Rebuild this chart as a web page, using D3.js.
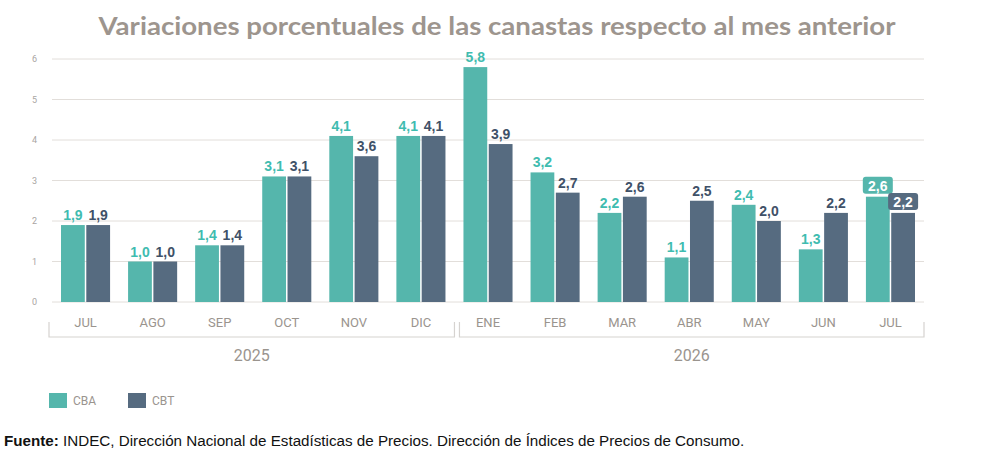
<!DOCTYPE html>
<html lang="es">
<head>
<meta charset="UTF-8">
<title>Variaciones porcentuales de las canastas</title>
<script src="https://d3js.org/d3.v7.min.js"></script>
<style>
    body { margin: 0; background: #fff; font-family: "Liberation Sans", Arial, sans-serif; }
    .tick text { font-family: "Liberation Sans Narrow", "Roboto", sans-serif; }
</style>
</head>
<body>
<div id="chart"></div>
<script>
// datos
const months = ["JUL", "AGO", "SEP", "OCT", "NOV", "DIC", "ENE", "FEB", "MAR", "ABR", "MAY", "JUN", "JUL"];
const years = [{ label: "2025", from: 0, to: 5 }, { label: "2026", from: 6, to: 12 }];
const cba = [1.9, 1.0, 1.4, 3.1, 4.1, 4.1, 5.8, 3.2, 2.2, 1.1, 2.4, 1.3, 2.6];
const cbt = [1.9, 1.0, 1.4, 3.1, 3.6, 4.1, 3.9, 2.7, 2.6, 2.5, 2.0, 2.2, 2.2];
const yTicks = [0, 1, 2, 3, 4, 5, 6];
const seriesNames = ["CBA", "CBT"];

const W = 995, H = 463;
const colors = { CBA: "#55b6ac", CBT: "#566b80" };
const labelColors = { CBA: "#3fbcb0", CBT: "#3f5168" };
const fmt = v => v.toFixed(1).replace(".", ",");

const svg = d3.select("#chart").append("svg")
    .attr("width", W).attr("height", H);

// título
svg.append("text")
    .attr("x", 497).attr("y", 35)
    .attr("text-anchor", "middle")
    .attr("font-family", "Lato, 'Noto Sans', sans-serif")
    .attr("font-weight", "bold")
    .attr("font-size", 25)
    .attr("fill", "#9d958e")
    .attr("textLength", 797)
    .attr("lengthAdjust", "spacingAndGlyphs")
    .text("Variaciones porcentuales de las canastas respecto al mes anterior");

// escalas
const x = d3.scaleBand().domain(d3.range(months.length)).range([52, 924]);
const xs = d3.scaleBand().domain(seriesNames).range([9, x.bandwidth() - 9]).paddingInner(0.06);
const y = d3.scaleLinear().domain([0, 6]).range([302, 59]);

// grilla
svg.append("g").selectAll("line").data(yTicks).join("line")
    .attr("x1", 52).attr("x2", 924)
    .attr("y1", d => y(d)).attr("y2", d => y(d))
    .attr("stroke", "#e2deda").attr("stroke-width", 1);

// eje y
const yAxis = svg.append("g")
    .attr("transform", "translate(40,0)")
    .call(d3.axisLeft(y).tickValues(yTicks).tickSize(0).tickFormat(d3.format("d")));
yAxis.select(".domain").remove();
yAxis.selectAll("text").attr("fill", "#a9a5a2").attr("font-size", 9);

// eje x
const xAxis = svg.append("g")
    .attr("transform", "translate(0,312)")
    .call(d3.axisBottom(x).tickSize(0).tickFormat(i => months[i]));
xAxis.select(".domain").remove();
xAxis.selectAll("text").attr("fill", "#9a948e").attr("font-size", 13).attr("dy", "0.9em");

// barras
const data = months.map((m, i) => ({ i, CBA: cba[i], CBT: cbt[i] }));
const groups = svg.append("g").selectAll("g").data(data).join("g")
    .attr("transform", d => `translate(${x(d.i)},0)`);

groups.selectAll("rect").data(d => seriesNames.map(k => ({ k, v: d[k] }))).join("rect")
    .attr("x", d => xs(d.k))
    .attr("width", xs.bandwidth())
    .attr("y", d => y(d.v))
    .attr("height", d => y(0) - y(d.v))
    .attr("fill", d => colors[d.k]);

// etiquetas
const last = months.length - 1;
groups.each(function (d) {
    const g = d3.select(this);
    seriesNames.forEach(k => {
        const cx = xs(k) + xs.bandwidth() / 2;
        const ty = y(d[k]) - 5;
        if (d.i === last) {
            g.append("rect")
                .attr("x", cx - 15).attr("y", ty - 15)
                .attr("width", 30).attr("height", 17)
                .attr("rx", 3)
                .attr("fill", colors[k]);
            g.append("text")
                .attr("x", cx).attr("y", ty - 1)
                .attr("text-anchor", "middle")
                .attr("font-size", 14).attr("font-weight", "bold")
                .attr("fill", "#fff")
                .text(fmt(d[k]));
        } else {
            g.append("text")
                .attr("x", cx).attr("y", ty)
                .attr("text-anchor", "middle")
                .attr("font-size", 14).attr("font-weight", "bold")
                .attr("fill", labelColors[k])
                .text(fmt(d[k]));
        }
    });
});

// llaves de años
const br = svg.append("g");
years.forEach((yr, j) => {
    const x0 = j === 0 ? 49 : x(yr.from) + 5;
    const x1 = j === 0 ? x(yr.to) + x.bandwidth() : 924;
    br.append("path")
        .attr("d", `M${x0},322 V337 H${x1} V322`)
        .attr("fill", "none").attr("stroke", "#d6d3d0").attr("stroke-width", 1.2);
    br.append("text")
        .attr("x", (x0 + x1) / 2).attr("y", 361)
        .attr("text-anchor", "middle")
        .attr("font-family", "'Liberation Sans Narrow', Roboto, sans-serif")
        .attr("font-size", 16).attr("fill", "#9a948e")
        .text(yr.label);
});

// leyenda
const leg = svg.append("g").selectAll("g").data(seriesNames).join("g")
    .attr("transform", (d, i) => `translate(${49 + i * 79},393)`);
leg.append("rect").attr("width", 18).attr("height", 15).attr("fill", d => colors[d]);
leg.append("text")
    .attr("x", 24).attr("y", 12)
    .attr("font-family", "'Liberation Sans Narrow', Roboto, sans-serif")
    .attr("font-size", 12).attr("fill", "#9a948e")
    .text(d => d);

// fuente
const src = svg.append("text").attr("x", 4).attr("y", 446).attr("font-size", 15.2).attr("fill", "#111");
src.append("tspan").attr("font-weight", "bold").text("Fuente:");
src.append("tspan").text(" INDEC, Dirección Nacional de Estadísticas de Precios. Dirección de Índices de Precios de Consumo.");
</script>
</body>
</html>
